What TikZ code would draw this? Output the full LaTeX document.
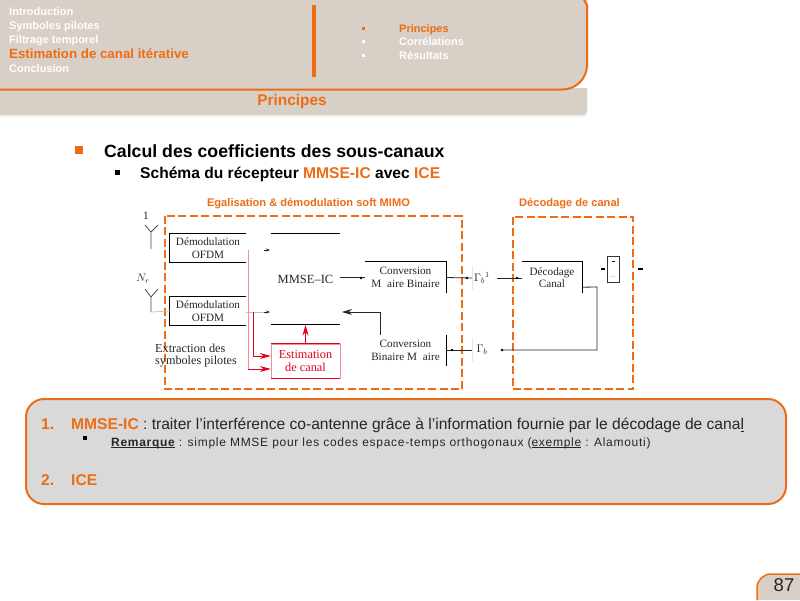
\documentclass[tikz,border=0pt]{standalone}
\usepackage{fontspec}
\setmainfont{Liberation Sans}
\newfontfamily\serifdiag{Liberation Serif}
\newfontfamily\spaced[LetterSpace=6]{Liberation Sans}
\usetikzlibrary{arrows.meta,calc}
\definecolor{orng}{HTML}{EE6C14}
\definecolor{hdr}{HTML}{D8CFC6}
\definecolor{callg}{HTML}{D9D9D9}
\definecolor{redd}{HTML}{E2001A}
\newcommand{\fs}[1]{\fontsize{#1}{#1}\selectfont}
\newcommand{\ulin}[1]{\underline{\smash{#1}}}
\tikzset{
  x=1pt,y=-1pt,
  navtxt/.style={anchor=base west,inner sep=0,text=white,font=\bfseries\fs{11}},
  navact/.style={anchor=base west,inner sep=0,text=orng,font=\bfseries\fs{11}},
  navbul/.style={fill=white,minimum size=3pt,inner sep=0},
  dbox/.style={draw=orng,line width=2pt,dash pattern=on 8pt off 3.5pt},
  dlabel/.style={inner sep=0,text=orng,font=\bfseries\fs{11.1}},
  blk/.style={inner sep=0,align=center,font=\serifdiag\fs{11.2},text=black!85,execute at begin node={\baselineskip=12.5pt}},
  edge/.style={line width=0.9pt,black},
  wire/.style={line width=0.8pt,black!85},
  tip/.style={-{Stealth[length=4pt,width=3pt]}},
  redw/.style={line width=1pt,redd,-{Stealth[length=11pt,width=6pt]}},
  body/.style={anchor=base west,inner sep=0,font=\fs{15.6},text=black!85},
  orb/.style={anchor=base west,inner sep=0,font=\bfseries\fs{15.6},text=orng},
}
\begin{document}
\begin{tikzpicture}
\useasboundingbox (0,0) rectangle (800,600);
\fill[white] (0,0) rectangle (800,600);
% header band
\fill[black!6] (0,92) -- (587,92) -- (587,114) arc[start angle=0,end angle=90,radius=3] -- (0,117) -- cycle;
\fill[hdr] (0,88) -- (587,88) -- (587,111) arc[start angle=0,end angle=90,radius=4] -- (0,115) -- cycle;
\node[inner sep=0,text=orng,font=\bfseries\fs{15.4}] (tit) at (292,101.5) {Principes};
% header panel
\fill[hdr] (0,0) -- (587,0) -- (587,65) arc[start angle=0,end angle=90,radius=24.5] -- (0,89.5) -- cycle;
\draw[orng,line width=2pt] (0,89.5) -- (562.5,89.5) arc[start angle=90,end angle=0,radius=24.5] -- (587,5) -- (584,0);
\fill[orng] (312,5) rectangle (316,77);
\node[navtxt] (n1) at (9,15.5) {Introduction};
\node[navtxt] (n2) at (9,29.5) {Symboles pilotes};
\node[navtxt] (n3) at (9,43) {Filtrage temporel};
\node[navact,font=\bfseries\fs{13.3}] (n4) at (9,58.5) {Estimation de canal itérative};
\node[navtxt] (n5) at (9,72) {Conclusion};
\node[navbul,fill=orng] (b1) at (363,28) {};
\node[navbul] (b2) at (363,41) {};
\node[navbul] (b3) at (363,55) {};
\node[navact] (s1) at (399,32) {Principes};
\node[navtxt] (s2) at (399,45) {Corrélations};
\node[navtxt] (s3) at (399,59) {Résultats};
% main bullets
\node[fill=orng,minimum size=8pt,inner sep=0] (mb1) at (79,150) {};
\node[anchor=base west,inner sep=0,font=\bfseries\fs{17.7},text=black] (mt1) at (104,157) {Calcul des coefficients des sous-canaux};
\node[fill=black,minimum size=5pt,inner sep=0] (mb2) at (117,172) {};
\node[anchor=base west,inner sep=0,font=\bfseries\fs{15.6},text=black] (mt2) at (140,178.5) {Schéma du récepteur \textcolor{orng}{MMSE-IC} avec \textcolor{orng}{ICE}};
% group labels
\node[dlabel] (g1) at (308.5,204) {Egalisation \& démodulation soft MIMO};
\node[dlabel] (g2) at (569.5,204) {Décodage de canal};
\node[draw=none,inner sep=0,minimum width=297pt,minimum height=173pt] (gb1) at (313.5,302.5) {};
\node[draw=none,inner sep=0,minimum width=120pt,minimum height=172pt] (gb2) at (573,303) {};
\draw[dbox] (gb1.north west) rectangle (gb1.south east);
\draw[dbox] (gb2.north west) rectangle (gb2.south east);
% antennas
\node[blk] (a1) at (146,216) {1};
\node[blk] (a2) at (143,278.5) {$N_r$};
\coordinate (a1c) at (151,232); \coordinate (a1b) at (151,249);
\coordinate (a1l) at (145,225); \coordinate (a1r) at (158,225);
\coordinate (a2c) at (151,297); \coordinate (a2b) at (151,312);
\coordinate (a2l) at (145,289); \coordinate (a2r) at (158,289);
\draw[wire,black!70] (a1l) -- (a1c) -- (a1r) (a1c) -- (a1b);
\draw[wire,black!70] (a2l) -- (a2c) -- (a2r) (a2c) -- (a2b);
% blocks
\node[blk,minimum width=76pt,minimum height=28pt] (d1) at (208,248) {Démodulation\\OFDM};
\node[blk,minimum width=76pt,minimum height=28pt] (d2) at (208,311) {Démodulation\\OFDM};
\node[blk,font=\serifdiag\fs{12.5},minimum width=69pt,minimum height=91pt] (mm) at (305.5,279) {MMSE–IC};
\node[blk,minimum width=81pt,minimum height=31pt] (c1) at (405.5,277.5) {Conversion\\M\hspace{6pt}aire Binaire};
\node[blk,minimum width=81pt,minimum height=31pt] (c2) at (405.5,350.5) {Conversion\\Binaire M\hspace{6pt}aire};
\node[blk,text=redd,font=\serifdiag\fs{12.3},minimum width=69pt,minimum height=34pt] (est) at (305.5,361) {Estimation\\de canal};
\node[blk,font=\serifdiag\fs{12.2},align=left,anchor=west] (ext) at (155,355.5) {Extraction des\\symboles pilotes};
\node[blk,minimum width=60pt,minimum height=31pt] (dec) at (552,277.5) {Décodage\\Canal};
\node[blk,minimum width=20pt,minimum height=24pt] (pi1) at (482,278) {$\Gamma_b{}^{1}$};
\node[blk,minimum width=20pt,minimum height=24pt] (pi2) at (482,350) {$\Gamma_b$};
\node[draw=black!80,line width=0.7pt,inner sep=0,minimum width=12pt,minimum height=26pt] (sink) at (613,269) {};
% partial edges
\draw[edge] (d1.north east) -- (d1.north west) -- (d1.south west) -- (d1.south east);
\draw[edge] (d2.north east) -- (d2.north west) -- (d2.south west) -- (d2.south east);
\draw[edge] (mm.north west) -- (mm.north east);
\draw[edge] (mm.south west) -- (mm.south east);
\draw[edge] (c1.north west) -- (c1.north east) -- (c1.south east);
\draw[edge] (c2.north east) -- (c2.south east);
\draw[edge] (dec.north west) -- (dec.north east) -- (dec.south east);
\draw[redd!45,line width=0.6pt] (est.north west) rectangle (est.south east);
\draw[redd,line width=0.8pt] (est.north west) -- (est.north east) (est.south west) -- (est.south east);
\draw[black!10,line width=0.5pt] (pi1.north west) -- (pi1.south west) (pi2.north west) -- (pi2.south west);
% connectors
\coordinate (t1a) at (264,250); \coordinate (t1b) at (270,250);
\coordinate (t2a) at (246,312); \coordinate (t2b) at (270,312);
\draw[tip,wire] (t1a) -- (t1b);
\draw[black!25,line width=0.7pt] (a2b) -- (d2.west);
\draw[black!25,line width=0.7pt] (t2a) -- (264,312);
\draw[tip,wire] (264,312) -- (t2b);
\coordinate (vp) at (248,250); \coordinate (vq) at (248,369);
\coordinate (rt) at (253,312); \coordinate (rb) at (253,356);
\draw[redd!45,line width=0.7pt] (vp) -- (vq);
\draw[redw] (rt) -- (rb) -- (est.west |- rb);
\draw[redw] (vq) -- (est.west |- vq);
\draw[redw] (est.north) -- (mm.south);
\draw[wire] (mm.east |- c1.west) -- (c1.west);
\fill[black] (361,278) circle (1.4pt);
\coordinate (fb) at (380,335);
\draw[wire,-{Stealth[length=10pt,width=6pt]}] (fb) -- (380,312) -- (342,312);
\coordinate (o2) at (497,278);
\coordinate (o3) at (502,350);
\coordinate (dl) at (597,287); \coordinate (dd) at (597,350);
\draw[wire] (c1.east) -- (pi1.west);
\fill[black] (467,278) circle (1.4pt);
\draw[wire] (o2) -- (dec.west |- o2);
\fill[black] (517,278) circle (1.4pt);
\draw[wire] ($(dec.south east)+(0,-6)$) -- (dl) -- (dd) -- (o3);
\fill[black] (o3) circle (1.4pt);
\draw[wire] (pi2.west) -- (c2.east |- pi2.west);
\fill[black] (452,350) circle (1.4pt);
% small marks around sink
\coordinate (m1) at (601,269); \coordinate (m2) at (605,269);
\coordinate (m3) at (638,269); \coordinate (m4) at (643,269);
\draw[black,line width=1.4pt] (m1) -- (m2) (m3) -- (m4);
\draw[black,line width=0.8pt] ($(sink.north)+(-1,6)$) -- ($(sink.north)+(2,6)$);
\draw[black!15,line width=0.8pt] ($(sink.south)+(-2,-6)$) -- ($(sink.south)+(2,-6)$);
% callout
\node[draw=orng,fill=callg,line width=2pt,rounded corners=18pt,inner sep=0,minimum width=760pt,minimum height=105pt] (call) at (406,451.5) {};
\node[orb] (c1n) at (41,429.5) {1.};
\node[body] (c1t) at (71,429.5) {\textcolor{orng}{\bfseries MMSE-IC} : traiter l’interférence co-antenne grâce à l’information fournie par le décodage de cana\underline{l}};
\node[fill=black,minimum size=4pt,inner sep=0] (cb) at (85,438) {};
\node[body,font=\spaced\fs{12}] (c2t) at (111,446) {\textbf{\ulin{Remarque}} : simple MMSE pour les codes espace-temps orthogonaux (\ulin{exemple} : Alamouti)};
\node[orb] (c3n) at (41,485.5) {2.};
\node[orb] (c3t) at (71,485.5) {ICE};
% page number
\fill[hdr] (757,600) -- (757,588) arc[start angle=180,end angle=270,radius=14] -- (800,574) -- (800,600) -- cycle;
\draw[orng,line width=1.5pt] (757,600) -- (757,588) arc[start angle=180,end angle=270,radius=14] -- (800,574);
\node[inner sep=0,font=\fs{18.5},text=black!85] (pg) at (784,585.5) {87};
\end{tikzpicture}
\end{document}
